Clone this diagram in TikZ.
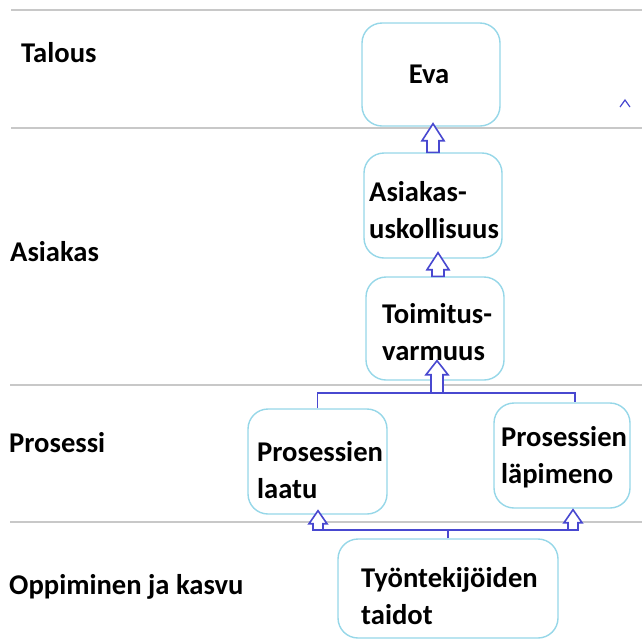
\documentclass[tikz,border=0pt]{standalone}
\usepackage{fontspec}
\setmainfont{Carlito}
\usetikzlibrary{calc}
\definecolor{boxc}{RGB}{150,215,232}
\definecolor{arrc}{RGB}{72,72,208}
\definecolor{sepc}{RGB}{200,200,200}
\tikzset{
  box/.style={draw=boxc, line width=1.4pt, rounded corners=20pt, fill=white},
  txt/.style={inner sep=0pt, anchor=west, align=left, font=\fontsize{28.6}{37}\selectfont\bfseries, text=black},
  conn/.style={draw=arrc, line width=1.8pt},
  barrow/.style={draw=arrc, line width=1.6pt, fill=white, line join=miter},
  sep/.style={draw=sepc, line width=2.6pt}
}
% #1 start, #2 tip, #3 half shaft, #4 half head, #5 head length
\newcommand\blkarrow[5]{%
  \draw[barrow] let \p1=(#1), \p2=(#2) in
    (\x1-#3pt,\y1) -- (\x1-#3pt,\y2-#5pt) -- (\x1-#4pt,\y2-#5pt) -- (\x1,\y2)
    -- (\x1+#4pt,\y2-#5pt) -- (\x1+#3pt,\y2-#5pt) -- (\x1+#3pt,\y1) -- cycle;}
\begin{document}
\begin{tikzpicture}[x=1pt,y=-1pt]
\useasboundingbox (0,0) rectangle (642,641);
% separators
\coordinate (s1a) at (11,10);  \coordinate (s1b) at (642,10);
\coordinate (s2a) at (11,128); \coordinate (s2b) at (642,128);
\coordinate (s3a) at (10,385); \coordinate (s3b) at (642,385);
\coordinate (s4a) at (10,522); \coordinate (s4b) at (642,522);
\draw[sep] (s1a) -- (s1b);
\draw[sep] (s2a) -- (s2b);
\draw[sep] (s3a) -- (s3b);
\draw[sep] (s4a) -- (s4b);
% row labels
\node[txt] (lt) at (21,53) {Talous};
\node[txt] (la) at (10,252) {Asiakas};
\node[txt] (lp) at (9,443) {Prosessi};
\node[txt] (lo) at (9,587) {Oppiminen ja kasvu};
% boxes
\node[box, minimum width=138pt, minimum height=103pt] (eva) at (431,74.5) {};
\node[box, minimum width=138pt, minimum height=105pt] (asi) at (433,205.5) {};
\node[box, minimum width=138pt, minimum height=103pt] (toi) at (435,328.5) {};
\node[box, minimum width=139pt, minimum height=105pt] (pla) at (317.5,461.5) {};
\node[box, minimum width=136pt, minimum height=105pt] (plm) at (562,455.5) {};
\node[box, minimum width=220pt, minimum height=99pt] (tyo) at (448,588.5) {};
% connector points
\coordinate (a1t) at ($(eva.south)+(0,-3)$);
\coordinate (a2s) at ($(toi.north)+(3,0)$);
\coordinate (a2t) at ($(asi.south)+(0,-6)$);
\coordinate (j1) at (437,393);
\coordinate (a3t) at ($(toi.south)+(0,-20)$);
\coordinate (plmN) at ($(plm.north)+(13,0)$);
\coordinate (b1) at (318,530);
\coordinate (b2) at (573,530);
\coordinate (a4t) at ($(pla.south)+(0,-4)$);
\coordinate (a5t) at ($(plm.south)+(0,1)$);
% connectors
\draw[conn] (pla.north) |- (j1) -| (plmN);
\draw[conn] (tyo.north) -- (tyo.north |- b1);
\draw[conn] (b1) -- (b2);
\blkarrow{asi.north}{a1t}{6}{11}{17}
\blkarrow{a2s}{a2t}{6}{11}{17}
\blkarrow{j1}{a3t}{6}{11}{14}
\blkarrow{b1}{a4t}{5}{9}{13}
\blkarrow{b2}{a5t}{5}{9}{13}
% small caret
\coordinate (c1) at (620,107); \coordinate (c2) at (625,100); \coordinate (c3) at (630,107);
\draw[draw=arrc, line width=1.2pt] (c1) -- (c2) -- (c3);
% box texts
\node[txt, anchor=center] (teva) at (429,74) {Eva};
\node[txt] (tasi) at (369,210) {Asiakas-\\uskollisuus};
\node[txt] (ttoi) at (382,332) {Toimitus-\\varmuus};
\node[txt] (tpla) at (257,470) {Prosessien\\laatu};
\node[txt] (tplm) at (501,457) {Prosessien\\läpimeno};
\node[txt] (ttyo) at (361,596) {Työntekijöiden\\taidot};
\end{tikzpicture}
\end{document}
